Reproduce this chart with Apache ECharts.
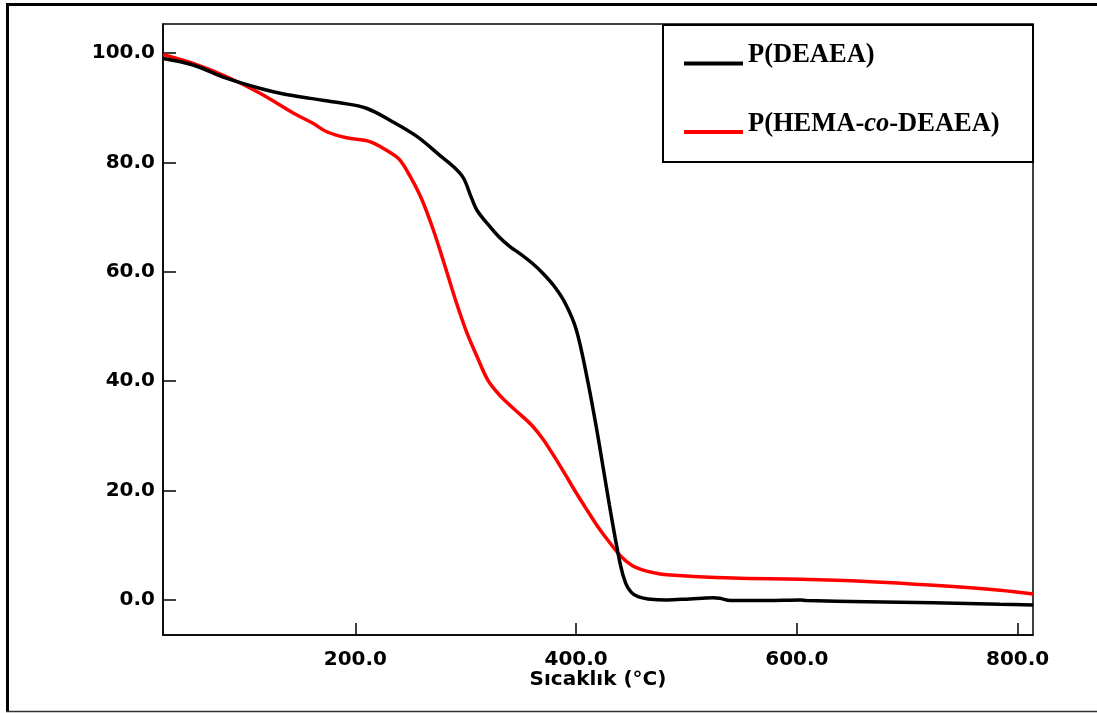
<!DOCTYPE html>
<html>
<head>
<meta charset="utf-8">
<script src="https://cdn.jsdelivr.net/npm/echarts@6/dist/echarts.min.js"></script>
<style>
html,body{margin:0;padding:0;background:#fff;}
#chart{width:1097px;height:713px;}
</style>
</head>
<body>
<div id="chart"></div>
<script>
// Series names
const seriesNames = ['P(DEAEA)', 'P(HEMA-co-DEAEA)'];
// P(DEAEA): temperature (°C) and mass (%)
const deaeaTemp = [26, 53, 83, 114, 135, 159, 186, 210, 234, 256, 277, 290, 298, 305, 310, 320, 330, 340, 350, 360, 370, 380, 390, 400, 410, 420, 430, 440, 445, 450, 456, 465, 482, 503, 524, 530, 540, 573, 603, 609, 663, 724, 784, 814];
const deaeaMass = [99.0, 97.8, 95.4, 93.5, 92.5, 91.7, 90.9, 89.9, 87.4, 84.7, 81.2, 79.0, 77.1, 73.6, 71.3, 68.7, 66.4, 64.6, 63.2, 61.6, 59.7, 57.4, 54.3, 49.5, 40.5, 29.6, 17.5, 6.5, 3.0, 1.4, 0.6, 0.2, 0.0, 0.2, 0.4, 0.3, -0.1, -0.1, 0.0, -0.1, -0.3, -0.5, -0.8, -0.9];
// P(HEMA-co-DEAEA): temperature (°C) and mass (%)
const hemaTemp = [26, 53, 83, 114, 144, 162, 174, 192, 213, 230, 240, 250, 260, 270, 280, 290, 300, 310, 320, 330, 340, 350, 360, 370, 380, 390, 400, 410, 420, 430, 440, 450, 460, 470, 482, 542, 603, 663, 724, 784, 814];
const hemaMass = [99.7, 98.1, 95.7, 92.6, 89.0, 87.1, 85.6, 84.5, 83.8, 82.0, 80.5, 77.3, 73.3, 68.0, 61.8, 55.3, 49.4, 44.6, 40.2, 37.6, 35.6, 33.8, 31.9, 29.4, 26.3, 23.0, 19.6, 16.4, 13.3, 10.6, 8.1, 6.4, 5.5, 5.0, 4.6, 4.0, 3.8, 3.4, 2.7, 1.8, 1.1];
// Axis ticks
const xTicks = [200, 400, 600, 800];
const yTicks = [0, 20, 40, 60, 80, 100];
const xName = 'Sıcaklık (°C)';

const zip = (a, b) => a.map((v, i) => [v, b[i]]);

const chart = echarts.init(document.getElementById('chart'), null, {renderer: 'canvas'});
const axisFont = {fontFamily: 'DejaVu Sans', fontWeight: 'bold', fontSize: 20, color: '#000'};
const legendFont = 'Liberation Serif';

chart.setOption({
  animation: false,
  backgroundColor: '#fff',
  grid: {left: 163, right: 64, top: 24, bottom: 78, show: true, borderColor: '#000', borderWidth: 1.5, containLabel: false},
  xAxis: {
    type: 'value', min: 25.7, max: 813.9,
    name: xName, nameLocation: 'middle', nameGap: 35, nameMoveOverlap: false,
    nameTextStyle: axisFont,
    axisLine: {show: true, onZero: false, lineStyle: {color: '#000', width: 1.5}},
    axisTick: {show: true, inside: true, length: 12, customValues: xTicks, lineStyle: {color: '#000', width: 1.5}},
    axisLabel: Object.assign({customValues: xTicks, margin: 15, formatter: v => v.toFixed(1)}, axisFont),
    splitLine: {show: false}
  },
  yAxis: {
    type: 'value', min: -6.4, max: 105.3,
    axisLine: {show: true, onZero: false, lineStyle: {color: '#000', width: 1.5}},
    axisTick: {show: true, inside: true, length: 13, customValues: yTicks, lineStyle: {color: '#000', width: 1.5}},
    axisLabel: Object.assign({customValues: yTicks, margin: 8, formatter: v => v.toFixed(1)}, axisFont),
    splitLine: {show: false}
  },
  legend: {
    data: seriesNames,
    orient: 'vertical',
    left: 684, top: 42, padding: 0,
    itemWidth: 59, itemHeight: 4, itemGap: 26,
    icon: 'rect',
    selectedMode: false,
    formatter: name => name.replace('-co-', '-{i|co}-'),
    textStyle: {
      fontFamily: legendFont, fontWeight: 'bold', fontSize: 26.5, color: '#000',
      lineHeight: 26, padding: [0, 0, 16, 0],
      rich: {i: {fontFamily: legendFont, fontWeight: 'bold', fontStyle: 'italic', fontSize: 26.5, color: '#000', lineHeight: 26}}
    }
  },
  graphic: [
    {type: 'rect', shape: {x: 663, y: 25, width: 370, height: 137}, style: {fill: 'none', stroke: '#000', lineWidth: 2}, z: 10},
    {type: 'line', shape: {x1: 6, y1: 4.5, x2: 1097, y2: 4.5}, style: {stroke: '#000', lineWidth: 3}},
    {type: 'line', shape: {x1: 7.5, y1: 3, x2: 7.5, y2: 712}, style: {stroke: '#000', lineWidth: 3}},
    {type: 'line', shape: {x1: 6, y1: 711.5, x2: 1097, y2: 711.5}, style: {stroke: '#333', lineWidth: 1.5}}
  ],
  series: [
    {
      name: seriesNames[1], type: 'line', data: zip(hemaTemp, hemaMass),
      showSymbol: false, smooth: 0.35,
      lineStyle: {color: '#ff0000', width: 3.5}, itemStyle: {color: '#ff0000'}
    },
    {
      name: seriesNames[0], type: 'line', data: zip(deaeaTemp, deaeaMass),
      showSymbol: false, smooth: 0.35,
      lineStyle: {color: '#000', width: 3.5}, itemStyle: {color: '#000'}
    }
  ]
});
</script>
</body>
</html>
